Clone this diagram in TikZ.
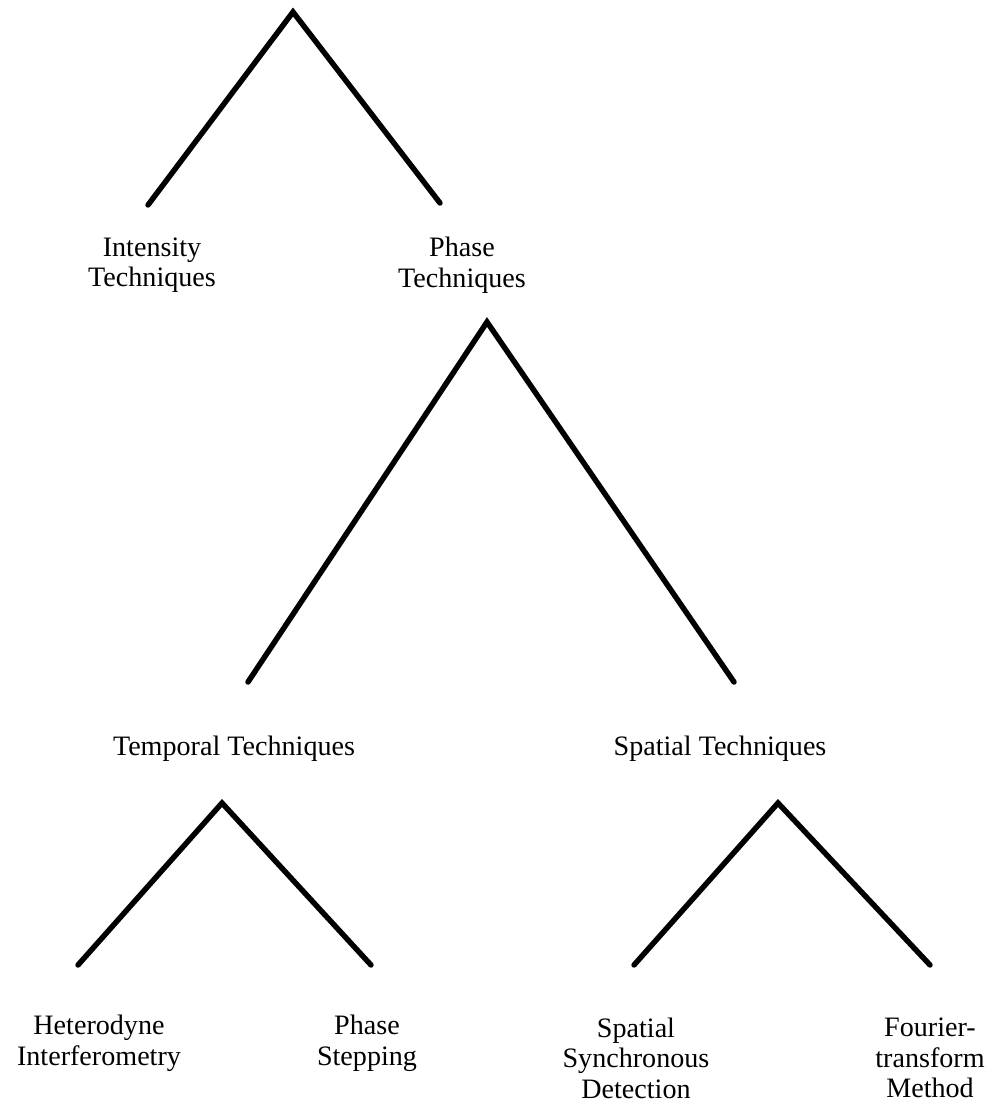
\documentclass[tikz,border=0pt]{standalone}
\usepackage{fontspec}
\setmainfont{Liberation Serif}
\usepackage{tikz}

\begin{document}
\begin{tikzpicture}[x=0.02cm,y=-0.02cm,
  leg/.style={line width=3.1pt, line cap=round, line join=miter},
  lbl/.style={align=center, font=\fontsize{16}{17.4}\selectfont, inner sep=0pt}]
  \useasboundingbox (0,0) rectangle (996,1112); % page size
  % peaks and leg ends
  \coordinate (top) at (293,12);
  \coordinate (topL) at (148,205);
  \coordinate (topR) at (440,203);
  \coordinate (ph) at (487,322);
  \coordinate (phL) at (248,682);
  \coordinate (phR) at (734,682);
  \coordinate (tmp) at (222,803);
  \coordinate (tmpL) at (78,965);
  \coordinate (tmpR) at (371,965);
  \coordinate (spa) at (778,803);
  \coordinate (spaL) at (634,965);
  \coordinate (spaR) at (930,965);
  % the legs
  \draw[leg] (topL) -- (top) -- (topR);
  \draw[leg] (phL) -- (ph) -- (phR);
  \draw[leg] (tmpL) -- (tmp) -- (tmpR);
  \draw[leg] (spaL) -- (spa) -- (spaR);
  % labels
  \node[lbl] (intensity) at (152,265) {Intensity\\Techniques};
  \node[lbl] (phase) at (462,265) {Phase\\Techniques};
  \node[lbl] (temporal) at (234,749) {Temporal Techniques};
  \node[lbl] (spatial) at (720,749) {Spatial Techniques};
  \node[lbl] (hetero) at (99,1043) {Heterodyne\\Interferometry};
  \node[lbl] (stepping) at (367,1043) {Phase\\Stepping};
  \node[lbl] (ssd) at (636,1058) {Spatial\\Synchronous\\Detection};
  \node[lbl] (fourier) at (930,1058) {Fourier-\\transform\\Method};
\end{tikzpicture}
\end{document}
